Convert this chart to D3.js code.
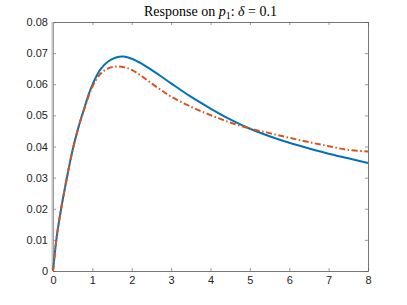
<!DOCTYPE html>
<html>
<head>
<meta charset="utf-8">
<script src="https://cdn.jsdelivr.net/npm/d3@7"></script>
<style>
  body { margin: 0; background: #fff; }
  .tick text { font-family: "Liberation Sans", Arial, sans-serif; font-size: 11px; fill: #262626; }
</style>
</head>
<body>
<div id="chart"></div>
<script>
// time grid (x) and the two response curves
var tValues = [0, 0.1, 0.2, 0.3, 0.4, 0.5, 0.6, 0.7, 0.8, 0.9, 1.0, 1.2, 1.4, 1.6, 1.8, 2.0,
               2.25, 2.5, 2.75, 3.0, 3.5, 4.0, 4.5, 5.0, 5.5, 6.0, 6.5, 7.0, 7.5, 8.0];
var solidValues = [0, 0.0115, 0.0195, 0.0265, 0.0330, 0.0390, 0.0440, 0.0485, 0.0525, 0.0565, 0.0598,
                   0.0647, 0.0673, 0.0686, 0.0689, 0.0682, 0.0666, 0.0646, 0.0625, 0.0603, 0.0560,
                   0.0522, 0.0487, 0.0457, 0.0433, 0.0412, 0.0394, 0.0377, 0.0362, 0.0347];
var dashValues = [0, 0.0115, 0.0195, 0.0265, 0.0330, 0.0390, 0.0440, 0.0484, 0.0522, 0.0560, 0.0592,
                  0.0633, 0.0651, 0.0657, 0.0655, 0.0646, 0.0626, 0.0603, 0.0581, 0.0560, 0.0528,
                  0.0501, 0.0477, 0.0458, 0.0443, 0.0428, 0.0414, 0.0401, 0.0389, 0.0384];
var xTicks = [0, 1, 2, 3, 4, 5, 6, 7, 8];
var yTicks = [0, 0.01, 0.02, 0.03, 0.04, 0.05, 0.06, 0.07, 0.08];

var width = 407, height = 305;
var margin = {top: 22, right: 39, bottom: 34, left: 53};
var plotW = width - margin.left - margin.right,
    plotH = height - margin.top - margin.bottom;

var svg = d3.select("#chart").append("svg").attr("width", width).attr("height", height);
var g = svg.append("g").attr("transform", "translate(" + margin.left + "," + margin.top + ")");

var x = d3.scaleLinear().domain([0, 8]).range([0, plotW]);
var y = d3.scaleLinear().domain([0, 0.08]).range([plotH, 0]);

// axes with inward ticks, box on all four sides
g.append("g").attr("transform", "translate(0," + plotH + ")")
    .call(d3.axisBottom(x).tickValues(xTicks).tickSizeInner(-3).tickSizeOuter(0).tickPadding(5).tickFormat(d3.format("d")));
g.append("g")
    .call(d3.axisTop(x).tickValues(xTicks).tickSizeInner(-3).tickSizeOuter(0).tickFormat(""));
g.append("g")
    .call(d3.axisLeft(y).tickValues(yTicks).tickSizeInner(-3).tickSizeOuter(0).tickPadding(5).tickFormat(function (d) {
        return d === 0 ? "0" : d3.format(".2f")(d);
    }));
g.append("g").attr("transform", "translate(" + plotW + ",0)")
    .call(d3.axisRight(y).tickValues(yTicks).tickSizeInner(-3).tickSizeOuter(0).tickFormat(""));

g.selectAll(".domain").attr("stroke", "#555").attr("stroke-width", 0.8);
g.selectAll(".tick line").attr("stroke", "#555").attr("stroke-width", 0.6);

// left edge of the box appears as a lighter, wider band
g.append("line")
    .attr("x1", x(0) - 0.5).attr("x2", x(0) - 0.5)
    .attr("y1", y(0.08)).attr("y2", y(0))
    .attr("stroke", "#c4c4c4").attr("stroke-width", 2);

var line = d3.line()
    .x(function (d) { return x(d[0]); })
    .y(function (d) { return y(d[1]); })
    .curve(d3.curveCatmullRom.alpha(0.5));

g.append("path")
    .datum(d3.zip(tValues, solidValues))
    .attr("fill", "none")
    .attr("stroke", "#0072BD")
    .attr("stroke-width", 2)
    .attr("d", line);

g.append("path")
    .datum(d3.zip(tValues, dashValues))
    .attr("fill", "none")
    .attr("stroke", "#D95319")
    .attr("stroke-width", 2)
    .attr("stroke-dasharray", "6,2.5,1.5,2.5")
    .attr("d", line);

// title with math-style subscript
var title = svg.append("text")
    .attr("x", margin.left + plotW / 2)
    .attr("y", 16)
    .attr("text-anchor", "middle")
    .style("font-family", "'Liberation Serif', 'DejaVu Serif', serif")
    .style("font-size", "14px")
    .style("fill", "#000");
title.append("tspan").text("Response on ");
title.append("tspan").style("font-style", "italic").text("p");
title.append("tspan").attr("dy", 3).style("font-size", "10px").text("1");
title.append("tspan").attr("dy", -3).text(":  ");
title.append("tspan").style("font-style", "italic").text("δ");
title.append("tspan").text(" = 0.1");
</script>
</body>
</html>
